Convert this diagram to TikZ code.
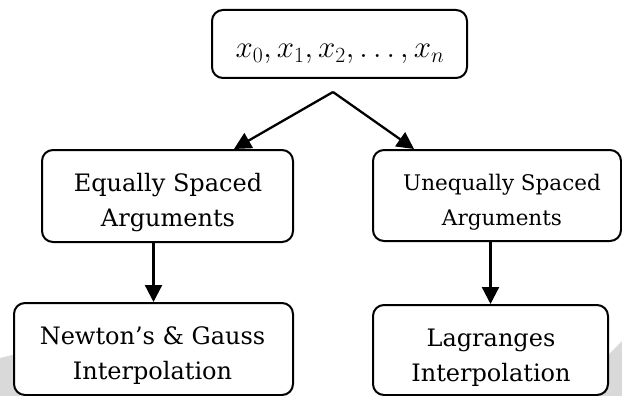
\documentclass[tikz,border=0pt]{standalone}
\usepackage{fix-cm}
\usepackage{fontspec}
\setmainfont{DejaVu Serif}
\usetikzlibrary{arrows.meta,calc}
\begin{document}
\begin{tikzpicture}[x=1pt,y=-1pt,
  box/.style={draw, line width=2pt, rounded corners=11pt, fill=white, inner sep=0pt},
  txt/.style={align=center, font=\fontsize{24}{35}\selectfont, inner sep=0pt},
  arr/.style={line width=2.3pt, -{Triangle[width=17pt,length=17pt]}}]
\useasboundingbox (0,0) rectangle (622,396);
\fill[gray!30] (0,358) -- (20,353) -- (20,396) -- (0,396) -- cycle;
\fill[gray!30] (592,396) .. controls (598,365) .. (622,341) -- (622,396) -- cycle;
\node[box, minimum width=255pt, minimum height=68pt] (top) at (339.5,44) {};
\node[box, minimum width=251pt, minimum height=92pt] (eq) at (167.5,196) {};
\node[box, minimum width=248pt, minimum height=91pt] (uneq) at (497,195.5) {};
\node[box, minimum width=279pt, minimum height=92pt] (newt) at (153.5,349) {};
\node[box, minimum width=235pt, minimum height=90pt] (lagr) at (490.5,350) {};
\node[inner sep=0pt] (topt) at (340,54) {\fontsize{31}{37}\selectfont $x_0, x_1, x_2, \ldots, x_n$};
\node[txt] (eqt) at (168,203) {Equally Spaced\\Arguments};
\node[txt, font=\fontsize{21.5}{35}\selectfont] (uneqt) at (502,202) {Unequally Spaced\\Arguments};
\node[txt] (newtt) at (152.5,356) {Newton’s \& Gauss\\Interpolation};
\node[txt] (lagrt) at (491,358) {Lagranges\\Interpolation};
\coordinate (apex) at (333,92);
\draw[arr, line join=round] (apex) -- ([xshift=42pt]uneq.north west);
\draw[arr, line join=round] (apex) -- ([xshift=193pt]eq.north west);
\draw[arr] (newt.north |- eq.south) -- (newt.north);
\draw[arr] (lagr.north |- uneq.south) -- (lagr.north);
\end{tikzpicture}
\end{document}
